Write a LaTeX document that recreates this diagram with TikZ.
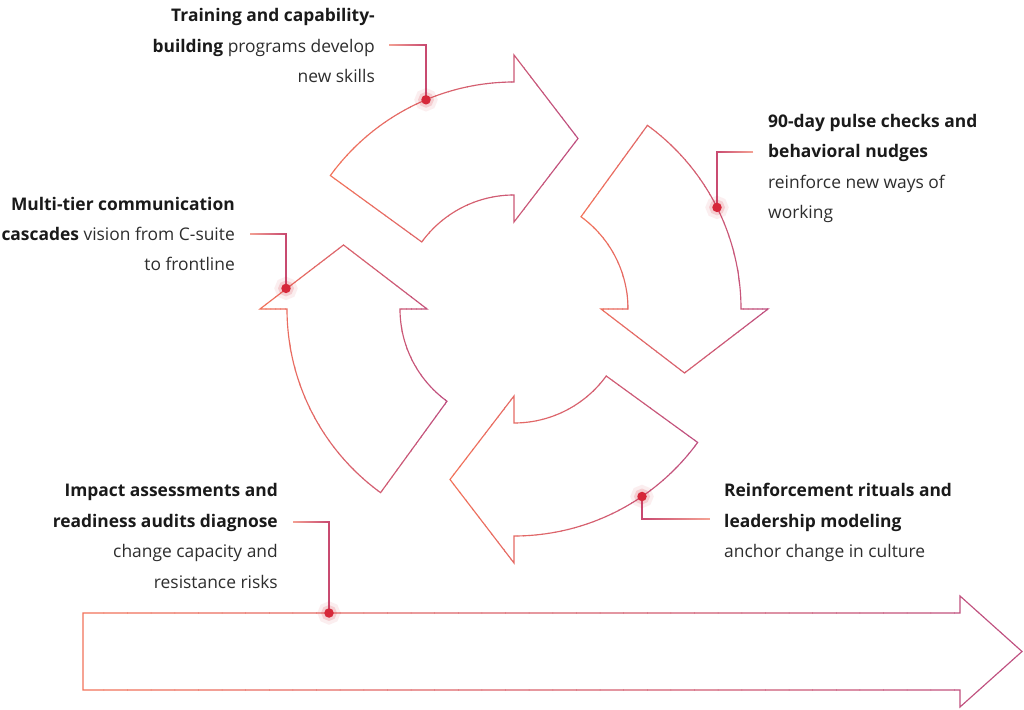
\documentclass[tikz,border=0pt]{standalone}
\usepackage{fontspec}
\setmainfont{Open Sans}
\usetikzlibrary{calc}
\definecolor{gA}{HTML}{F3735A}
\definecolor{gB}{HTML}{BE4F80}
\definecolor{cL}{HTML}{F7A896}
\definecolor{cD}{HTML}{C6446F}
\definecolor{dotred}{HTML}{D6283A}
\definecolor{txt}{HTML}{2E2E2E}
\definecolor{txtb}{HTML}{1A1A1A}
% gradient stroke by vertical clip strips
\newcommand\gradpath[6]{%
  \pgfmathsetmacro\gst{((#2)-(#1))/40}%
  \foreach \k in {1,...,40}{%
    \pgfmathsetmacro\pa{#1+\gst*(\k-1)}%
    \pgfmathsetmacro\pb{#1+\gst*\k+0.6}%
    \pgfmathsetmacro\pc{100-2.5*(\k-0.5)}%
    \begin{scope}
      \clip (\pa,-5) rectangle (\pb,715);
      \draw[gline, draw=#3!\pc!#4, #5] #6;
    \end{scope}
  }%
}
\newcommand\cyclearrow[3]{%
  \gradpath{#2}{#3}{gA}{gB}{shift={(514,400)},rotate=#1}%
  {(144:227) arc[start angle=144,end angle=90,radius=227] -- (0,254) -- (64,170.5) -- (0,87) -- (0,114) arc[start angle=90,end angle=144,radius=114] -- cycle}%
}
\tikzset{
  gline/.style={line width=1.15pt, line join=miter},
  lbl/.style={font=\fontsize{17.4}{30.4}\selectfont, text=txt, inner sep=0pt},
  dot/.style={circle, fill=dotred, inner sep=0pt, minimum size=9.5pt,
    preaction={draw=dotred, draw opacity=0.08, line width=13pt},
    preaction={draw=dotred, draw opacity=0.16, line width=6pt}},
}
\newcommand\hb[1]{{\bfseries\color{txtb}#1}}
\begin{document}
\begin{tikzpicture}[x=1pt,y=1pt]
\fill[white] (0,0) rectangle (1024,709);
\useasboundingbox (0,0) rectangle (1024,709);

% four cycle arrows
\cyclearrow{0}{328}{581}
\cyclearrow{-90}{579}{772}
\cyclearrow{-180}{447}{701}
\cyclearrow{90}{256}{450}

% bottom long arrow
\gradpath{80}{1025}{gA}{gB}{}{(83,19) -- (83,96) -- (960,96) -- (960,113) -- (1022,57.5) -- (960,2) -- (960,19) -- cycle}

% labels (base anchor = baseline of last line)
\node[lbl, anchor=base east, align=right] (t1) at (375,626.5)
  {\hb{Training and capability-}\\\hb{building} programs develop\\new skills};
\node[lbl, anchor=base west, align=left] (t2) at (768,490.5)
  {\hb{90-day pulse checks and}\\\hb{behavioral nudges}\\reinforce new ways of\\working};
\node[lbl, anchor=base east, align=right] (t3) at (235,438)
  {\hb{Multi-tier communication}\\\hb{cascades} vision from C-suite\\to frontline};
\node[lbl, anchor=base east, align=right] (t4) at (278,121)
  {\hb{Impact assessments and}\\\hb{readiness audits diagnose}\\change capacity and\\resistance risks};
\node[lbl, anchor=base west, align=left] (t5) at (724,151.5)
  {\hb{Reinforcement rituals and}\\\hb{leadership modeling}\\anchor change in culture};

% connector start points
\coordinate (c1) at (389,664);
\coordinate (c2) at (753,557);
\coordinate (c3) at (250,475);
\coordinate (c4) at (293,187);
\coordinate (c5) at (710,190);

% dot anchor points on the shapes
\coordinate (p1) at (426,609.2);
\coordinate (p2) at (717,501.6);
\coordinate (p3) at (286,420.6);
\coordinate (p4) at (329,96);
\coordinate (p5) at (642,212.5);

% connectors
\gradpath{386}{429}{cL}{cD}{}{(c1) -| (p1)}
\gradpath{714}{756}{cD}{cL}{}{(c2) -| (p2)}
\gradpath{247}{289}{cL}{cD}{}{(c3) -| (p3)}
\gradpath{290}{332}{cL}{cD}{}{(c4) -| (p4)}
\gradpath{639}{713}{cD}{cL}{}{(p5) |- (c5)}

% dots
\node[dot] (d1) at (p1) {};
\node[dot] (d2) at (p2) {};
\node[dot] (d3) at (p3) {};
\node[dot] (d4) at (p4) {};
\node[dot] (d5) at (p5) {};
\end{tikzpicture}
\end{document}
